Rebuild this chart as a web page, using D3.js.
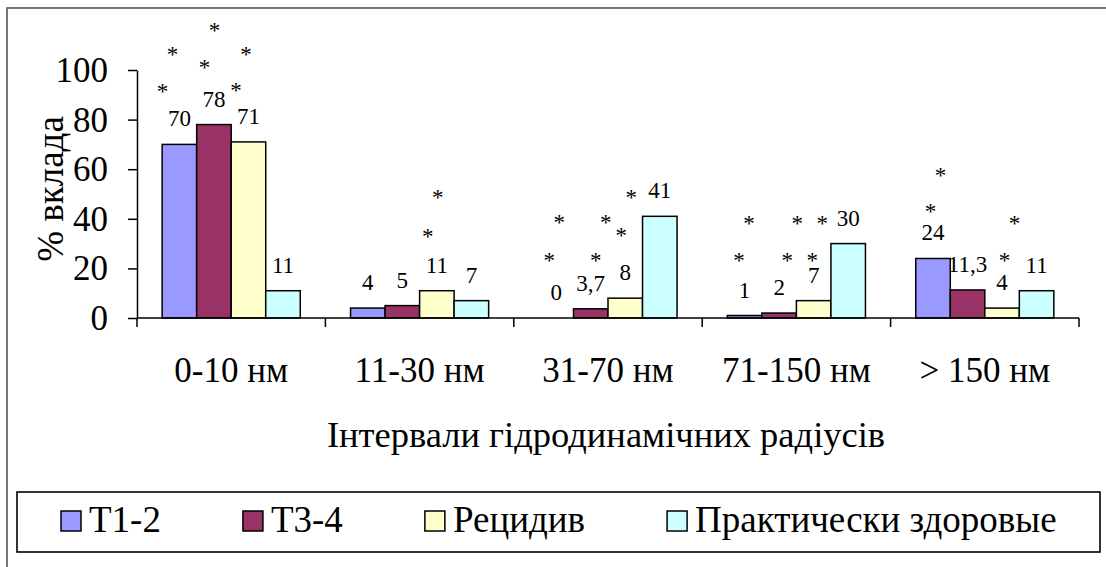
<!DOCTYPE html>
<html>
<head>
<meta charset="utf-8">
<script src="https://cdn.jsdelivr.net/npm/d3@7"></script>
<style>
  html, body { margin: 0; padding: 0; background: #fff; }
  svg { display: block; }
</style>
</head>
<body>
<svg id="chart" width="1106" height="567"></svg>
<script>
// Size intervals of hydrodynamic radii
const categories = ["0-10 нм", "11-30 нм", "31-70 нм", "71-150 нм", "> 150 нм"];
const seriesNames = ["T1-2", "T3-4", "Рецидив", "Практически здоровые"];
const seriesColors = ["#9999FF", "#993366", "#FFFFCC", "#CCFFFF"];

// Contribution, % — one array per group, in category order
const valuesT12 = [70, 4, 0, 1, 24];
const valuesT34 = [78, 5, 3.7, 2, 11.3];
const valuesRecurrence = [71, 11, 8, 7, 4];
const valuesHealthy = [11, 7, 41, 30, 11];

// Value labels as printed above the bars
const labelsT12 = ["70", "4", "0", "1", "24"];
const labelsT34 = ["78", "5", "3,7", "2", "11,3"];
const labelsRecurrence = ["71", "11", "8", "7", "4"];
const labelsHealthy = ["11", "7", "41", "30", "11"];

const yTicks = [0, 20, 40, 60, 80, 100];

// Significance marks: [category, series, lower star level, upper star level] (levels in % units)
const starPairs = [
  [0, 0, 93, 108], [0, 1, 103, 117.7], [0, 2, 93.5, 108],
  [1, 2, 34.7, 50.4],
  [2, 0, 25, 40.3], [2, 1, 25, 40.3], [2, 2, 35.1, 50.4],
  [3, 0, 25, 39.9], [3, 1, 25, 39.9], [3, 2, 25, 39.9],
  [4, 0, 44.8, 59.3], [4, 2, 25, 39.9]
];
// horizontal nudge of the lower star relative to the bar centre (upper one sits 10px further right)
const starShift = [-17, -9.5, -12.5, -9, -7, 5, -4, -5.5, 8, -1.5, -2.5, 2.5];

const FONT = "Liberation Serif";

const valueSeries = [valuesT12, valuesT34, valuesRecurrence, valuesHealthy];
const labelSeries = [labelsT12, labelsT34, labelsRecurrence, labelsHealthy];

const rows = categories.map((c, i) => ({
  category: c,
  bars: seriesNames.map((s, j) => ({ series: j, value: valueSeries[j][i], label: labelSeries[j][i] }))
}));

const svg = d3.select("#chart");

// outer frame (only its left and top edges fall inside the page)
svg.append("rect")
  .attr("x", 7).attr("y", 8).attr("width", 1130).attr("height", 600)
  .attr("fill", "none").attr("stroke", "#555").attr("stroke-width", 1.6);

const plot = { left: 137, right: 1079, top: 70, bottom: 318 };

const x0 = d3.scaleBand()
  .domain(categories)
  .range([plot.left, plot.right])
  .paddingInner(0.267)
  .paddingOuter(0.1335);

const x1 = d3.scaleBand()
  .domain(d3.range(seriesNames.length))
  .range([0, x0.bandwidth()])
  .padding(0);

const y = d3.scaleLinear().domain([0, 100]).range([plot.bottom, plot.top]);

function txt(sel, size) {
  return sel.style("font-family", `'${FONT}'`).style("font-size", size + "px").attr("fill", "#000");
}

// bars
const groups = svg.append("g").selectAll("g")
  .data(rows)
  .join("g")
  .attr("transform", d => `translate(${x0(d.category)},0)`);

groups.selectAll("rect")
  .data(d => d.bars)
  .join("rect")
  .attr("x", d => x1(d.series))
  .attr("width", x1.bandwidth())
  .attr("y", d => y(d.value))
  .attr("height", d => y(0) - y(d.value))
  .attr("fill", d => seriesColors[d.series])
  .attr("stroke", "#000")
  .attr("stroke-width", 1.5);

// value labels
txt(groups.selectAll("text.val")
  .data(d => d.bars)
  .join("text")
  .attr("class", "val")
  .attr("x", d => x1(d.series) + x1.bandwidth() / 2)
  .attr("y", d => y(d.value) - 18)
  .attr("text-anchor", "middle"), 23)
  .text(d => d.label);

// significance stars
const starG = svg.append("g");
starPairs.forEach((p, k) => {
  const [ci, si, lo, hi] = p;
  const cx = x0(categories[ci]) + x1(si) + x1.bandwidth() / 2 + starShift[k];
  [[lo, 0], [hi, 10]].forEach(([lvl, dx]) => {
    txt(starG.append("text")
      .attr("x", cx + dx)
      .attr("y", y(lvl) + 12)
      .attr("text-anchor", "middle"), 23)
      .text("*");
  });
});

// y axis
const yAxis = svg.append("g")
  .attr("transform", `translate(${plot.left},0)`)
  .call(d3.axisLeft(y).tickValues(yTicks).tickSize(9).tickPadding(20).tickSizeOuter(0));
yAxis.attr("font-family", null).attr("font-size", null);
yAxis.select(".domain").attr("stroke", "#000").attr("stroke-width", 1.5);
yAxis.selectAll(".tick line").attr("stroke", "#000").attr("stroke-width", 1.5);
txt(yAxis.selectAll(".tick text"), 35).attr("dy", "0.33em");

// x axis: baseline plus ticks at group boundaries
const step = x0.step();
const boundaries = d3.range(categories.length + 1).map(i => plot.left + i * step);
svg.append("line")
  .attr("x1", plot.left).attr("x2", plot.right)
  .attr("y1", y(0)).attr("y2", y(0))
  .attr("stroke", "#000").attr("stroke-width", 1.5);
svg.append("g").selectAll("line")
  .data(boundaries)
  .join("line")
  .attr("x1", d => d).attr("x2", d => d)
  .attr("y1", y(0)).attr("y2", y(0) + 9)
  .attr("stroke", "#000").attr("stroke-width", 1.5);

txt(svg.append("g").selectAll("text")
  .data(categories)
  .join("text")
  .attr("x", d => x0(d) + x0.bandwidth() / 2)
  .attr("y", 382)
  .attr("text-anchor", "middle"), 35)
  .text(d => d);

// axis titles
txt(svg.append("text")
  .attr("transform", "translate(63,189) rotate(-90)")
  .attr("text-anchor", "middle"), 37)
  .text("% вклада");

txt(svg.append("text")
  .attr("x", (plot.left + plot.right) / 2 - 2)
  .attr("y", 447)
  .attr("text-anchor", "middle"), 36.5)
  .text("Інтервали гідродинамічних радіусів");

// legend
svg.append("rect")
  .attr("x", 17).attr("y", 492).attr("width", 1083).attr("height", 60)
  .attr("fill", "#fff").attr("stroke", "#000").attr("stroke-width", 1.6);

const legend = svg.append("g");
let lx = 61;
seriesNames.forEach((name, i) => {
  legend.append("rect")
    .attr("x", lx).attr("y", 511).attr("width", 20).attr("height", 20)
    .attr("fill", seriesColors[i]).attr("stroke", "#000").attr("stroke-width", 1.5);
  const t = txt(legend.append("text")
    .attr("x", lx + 28).attr("y", 532), 37)
    .text(name);
  lx += 28 + t.node().getComputedTextLength() + 82;
});
</script>
</body>
</html>
